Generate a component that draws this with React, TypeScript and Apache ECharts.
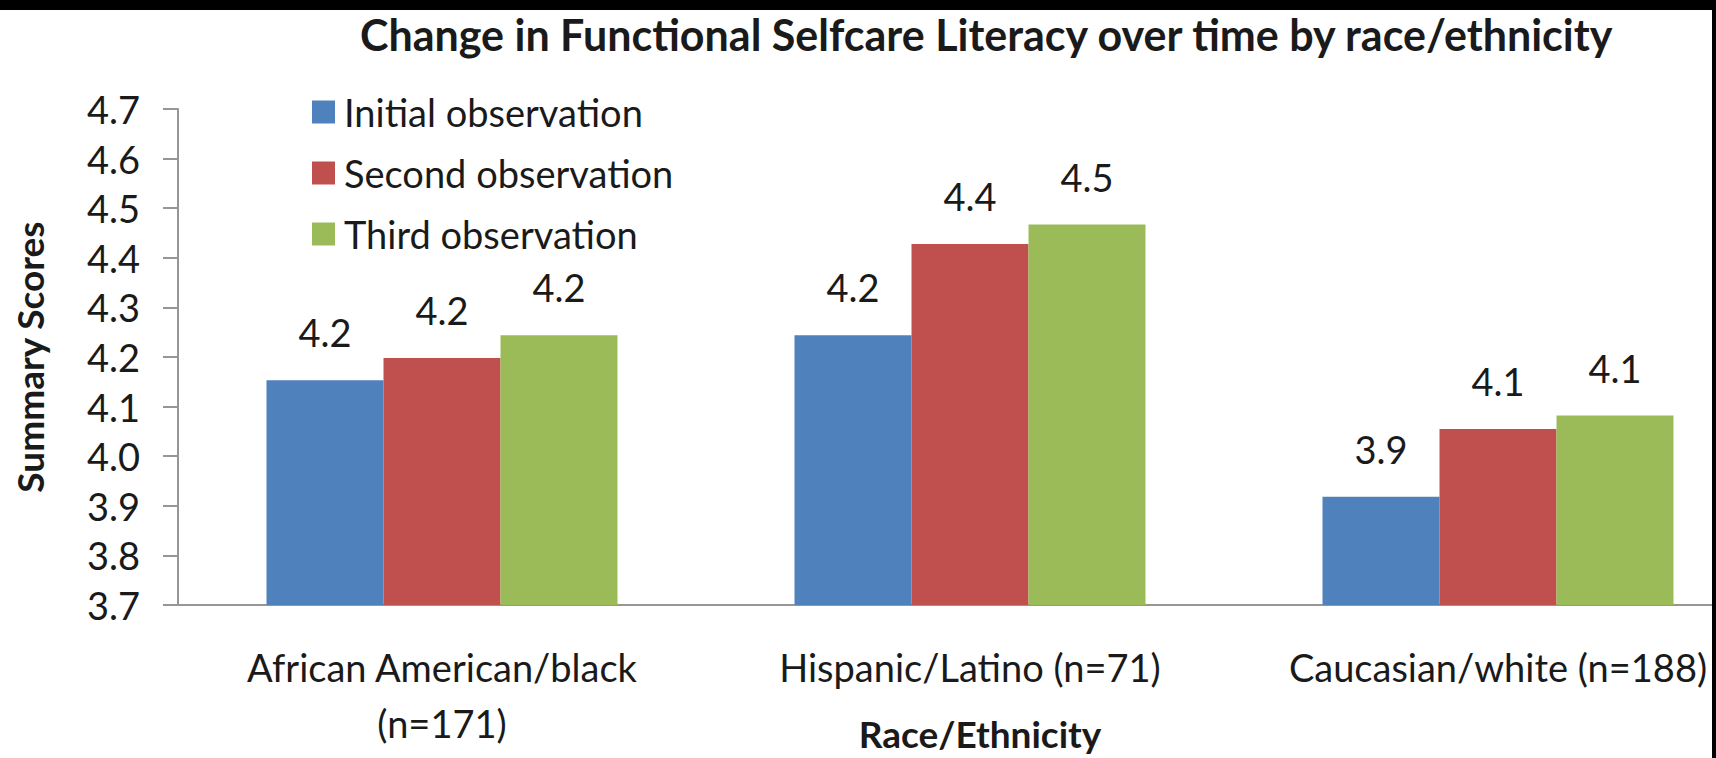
import React, { useEffect, useRef } from "react";
import * as echarts from "echarts";

const categories = ["African American/black\n(n=171)", "Hispanic/Latino (n=71)", "Caucasian/white (n=188)"];
const seriesNames = ["Initial observation", "Second observation", "Third observation"];
const initialObs = [4.153, 4.244, 3.918];
const secondObs = [4.198, 4.428, 4.055];
const thirdObs = [4.244, 4.467, 4.082];
const colors = ["#4F81BD", "#C0504D", "#9BBB59"];
const yTicks = { min: 3.7, max: 4.7, step: 0.1 };

const FONT = "Lato, 'Open Sans', sans-serif";
const TEXT = "#1a1a1a";

export default function App() {
  const ref = useRef<HTMLDivElement>(null);
  useEffect(() => {
    document.body.style.margin = "0";
    const chart = echarts.init(ref.current!, null, { renderer: "svg" });
    const values = [initialObs, secondObs, thirdObs];
    chart.setOption({
      animation: false,
      backgroundColor: "#ffffff",
      textStyle: { fontFamily: FONT, color: TEXT },
      title: {
        text: "Change in Functional Selfcare Literacy over time by race/ethnicity",
        left: 355,
        top: 8,
        textStyle: { fontFamily: FONT, fontWeight: "bold", fontSize: 43, color: TEXT },
      },
      legend: {
        orient: "vertical",
        left: 307,
        top: 87,
        itemWidth: 23,
        itemHeight: 23,
        itemGap: 21,
        icon: "rect",
        data: seriesNames,
        textStyle: { fontFamily: FONT, fontSize: 38, lineHeight: 40, color: TEXT, padding: [0, 0, 0, 4] },
      },
      grid: { left: 178, top: 109, width: 1584, height: 496, outerBoundsMode: "none", containLabel: false },
      xAxis: {
        type: "category",
        data: categories,
        axisTick: { show: false },
        axisLine: { lineStyle: { color: "#969696", width: 2 } },
        axisLabel: { fontFamily: FONT, fontSize: 38, lineHeight: 56, margin: 34, color: TEXT, interval: 0 },
        name: "Race/Ethnicity",
        nameLocation: "middle",
        nameGap: 108,
        nameMoveOverlap: false,
        nameTextStyle: { fontFamily: FONT, fontWeight: "bold", fontSize: 37, lineHeight: 40, color: TEXT, padding: [0, 0, 0, 20] },
      },
      yAxis: {
        type: "value",
        min: yTicks.min,
        max: yTicks.max,
        interval: yTicks.step,
        splitLine: { show: false },
        axisLine: { show: true, lineStyle: { color: "#969696", width: 2 } },
        axisTick: { show: true, length: 15, lineStyle: { color: "#969696", width: 2 } },
        axisLabel: {
          fontFamily: FONT,
          fontSize: 38,
          margin: 38,
          color: TEXT,
          formatter: (v: number) => v.toFixed(1),
        },
        name: "Summary Scores",
        nameLocation: "middle",
        nameRotate: 90,
        nameGap: 130,
        nameMoveOverlap: false,
        nameTextStyle: { fontFamily: FONT, fontWeight: "bold", fontSize: 37, color: TEXT },
      },
      series: seriesNames.map((name, i) => ({
        name,
        type: "bar",
        data: values[i],
        barWidth: 117,
        barGap: "0%",
        itemStyle: { color: colors[i] },
        label: {
          show: true,
          position: "top",
          distance: 29,
          fontFamily: FONT,
          fontSize: 38,
          color: TEXT,
          formatter: (p: any) => Number(p.value).toFixed(1),
        },
      })),
      graphic: [
        { type: "rect", left: 0, top: 0, shape: { width: 1716, height: 10 }, style: { fill: "#000" }, z: 100 },
        { type: "rect", left: 1712, top: 0, shape: { width: 4, height: 758 }, style: { fill: "#000" }, z: 100 },
      ],
    });
    return () => chart.dispose();
  }, []);
  return <div ref={ref} style={{ position: "absolute", left: 0, top: 0, width: 1716, height: 758 }} />;
}
